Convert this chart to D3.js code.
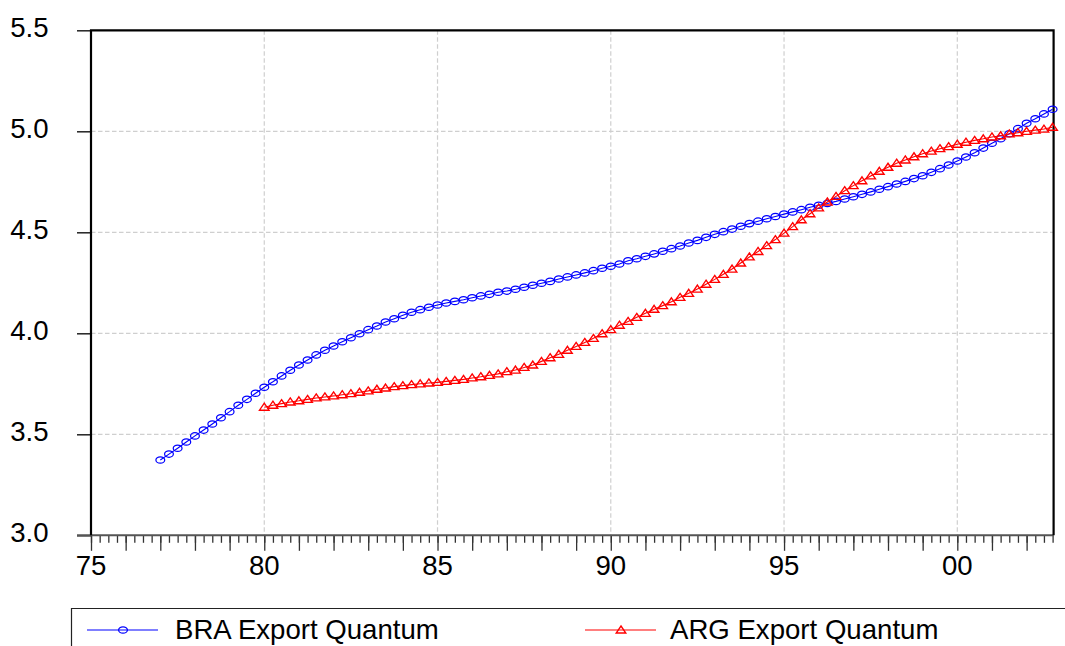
<!DOCTYPE html>
<html>
<head>
<meta charset="utf-8">
<script src="https://cdn.jsdelivr.net/npm/d3@7/dist/d3.min.js"></script>
<style>
  html, body { margin: 0; padding: 0; background: #fff; }
  svg { display: block; }
  text { font-family: "Liberation Sans", Arial, sans-serif; fill: #000; }
</style>
</head>
<body>
<svg id="chart" width="1065" height="646"></svg>
<script>
// Quarterly series (log export quantum), first observation given by start year/quarter
const braStart = [1977, 1];
const braValues = [
  3.373, 3.402, 3.431, 3.462,
  3.492, 3.521, 3.551, 3.582,
  3.612, 3.644, 3.673, 3.703,
  3.733, 3.760, 3.789, 3.817,
  3.843, 3.868, 3.893, 3.916,
  3.937, 3.958, 3.978, 3.998,
  4.018, 4.036, 4.056, 4.072,
  4.089, 4.104, 4.117, 4.129,
  4.140, 4.150, 4.158, 4.166,
  4.176, 4.185, 4.193, 4.203,
  4.209, 4.218, 4.228, 4.238,
  4.248, 4.257, 4.269, 4.279,
  4.289, 4.299, 4.310, 4.322,
  4.332, 4.343, 4.359, 4.369,
  4.381, 4.393, 4.406, 4.419,
  4.432, 4.447, 4.460, 4.475,
  4.490, 4.503, 4.516, 4.530,
  4.543, 4.555, 4.567, 4.578,
  4.590, 4.601, 4.612, 4.624,
  4.634, 4.643, 4.653, 4.665,
  4.676, 4.688, 4.700, 4.713,
  4.726, 4.739, 4.752, 4.766,
  4.780, 4.797, 4.815, 4.833,
  4.853, 4.873, 4.894, 4.917,
  4.941, 4.963, 4.988, 5.013,
  5.040, 5.062, 5.086, 5.109
];

const argStart = [1980, 1];
const argValues = [
  3.634, 3.644, 3.652, 3.660,
  3.666, 3.673, 3.680, 3.685,
  3.690, 3.696, 3.701, 3.708,
  3.715, 3.723, 3.729, 3.736,
  3.741, 3.746, 3.750, 3.754,
  3.757, 3.762, 3.767, 3.772,
  3.779, 3.785, 3.792, 3.799,
  3.810, 3.818, 3.831, 3.843,
  3.861, 3.879, 3.896, 3.916,
  3.935, 3.955, 3.975, 3.998,
  4.018, 4.040, 4.059, 4.079,
  4.099, 4.119, 4.137, 4.156,
  4.178, 4.198, 4.219, 4.243,
  4.267, 4.292, 4.318, 4.348,
  4.378, 4.405, 4.434, 4.464,
  4.496, 4.528, 4.562, 4.592,
  4.621, 4.650, 4.678, 4.706,
  4.731, 4.755, 4.779, 4.802,
  4.822, 4.842, 4.858, 4.874,
  4.889, 4.902, 4.914, 4.924,
  4.936, 4.946, 4.955, 4.963,
  4.972, 4.978, 4.987, 4.993,
  5.000, 5.006, 5.011, 5.020
];

const seriesNames = ["BRA Export Quantum", "ARG Export Quantum"];
const xTickYears = [1975, 1980, 1985, 1990, 1995, 2000];
const xTickLabels = ["75", "80", "85", "90", "95", "00"];
const yTickValues = [3.0, 3.5, 4.0, 4.5, 5.0, 5.5];
const yTickLabels = ["3.0", "3.5", "4.0", "4.5", "5.0", "5.5"];
const sampleRange = [1975, 2002.75];

// ---- layout ----
const svg = d3.select("#chart");
const plotL = 91, plotR = 1052.6, plotT = 30.3, plotB = 535.3;
const fontSize = 27.6;

const x = d3.scaleLinear().domain(sampleRange).range([plotL, plotR]);
const y = d3.scaleLinear().domain([3.0, 5.5]).range([plotB, plotT]);

function toPoints(start, values) {
  const t0 = start[0] + (start[1] - 1) / 4;
  return values.map((v, i) => ({ t: t0 + i / 4, v }));
}
const bra = toPoints(braStart, braValues);
const arg = toPoints(argStart, argValues);

// grid lines
const grid = svg.append("g").attr("stroke", "#cfcfcf").attr("stroke-width", 1.2)
  .attr("stroke-dasharray", "4.5,2.5");
grid.selectAll("line.h").data(yTickValues.slice(1, -1)).join("line").attr("class", "h")
  .attr("x1", plotL).attr("x2", plotR + 1).attr("y1", d => y(d)).attr("y2", d => y(d));
grid.selectAll("line.v").data(xTickYears.slice(1)).join("line").attr("class", "v")
  .attr("x1", d => x(d)).attr("x2", d => x(d)).attr("y1", plotT).attr("y2", plotB);

// x axis with quarterly minor ticks and yearly major ticks
const quarterTicks = d3.range(sampleRange[0], sampleRange[1] + 0.001, 0.25);
const xAxisMinor = d3.axisBottom(x).tickValues(quarterTicks).tickSize(7.5).tickFormat("");
const xAxisMajor = d3.axisBottom(x).tickValues(d3.range(1975, 2003, 1)).tickSize(15.5).tickFormat("");
const gxMinor = svg.append("g").attr("transform", `translate(0,${plotB})`).call(xAxisMinor);
const gxMajor = svg.append("g").attr("transform", `translate(0,${plotB})`).call(xAxisMajor);
[gxMinor, gxMajor].forEach(g => {
  g.select(".domain").remove();
  g.selectAll(".tick line").attr("stroke", "#333").attr("stroke-width", 1.3);
});
svg.append("g").selectAll("text").data(xTickYears).join("text")
  .attr("x", d => x(d)).attr("y", 574.5).attr("text-anchor", "middle")
  .attr("font-size", fontSize).text((d, i) => xTickLabels[i]);

// y axis ticks and labels
const yAxis = d3.axisLeft(y).tickValues(yTickValues).tickSize(14).tickFormat("");
const gy = svg.append("g").attr("transform", `translate(${plotL},0)`).call(yAxis);
gy.select(".domain").remove();
gy.selectAll(".tick line").attr("stroke", "#222").attr("stroke-width", 1.5);
svg.append("g").selectAll("text").data(yTickValues).join("text")
  .attr("x", 48.5).attr("y", d => y(d) + 7).attr("text-anchor", "end")
  .attr("font-size", fontSize).text((d, i) => yTickLabels[i]);

// frame
svg.append("line").attr("x1", plotL - 14).attr("x2", plotR + 1).attr("y1", plotB).attr("y2", plotB)
  .attr("stroke", "#555").attr("stroke-width", 2);
svg.append("path")
  .attr("d", `M${plotL},${plotB}V${plotT}H${plotR + 1}V${plotB}`)
  .attr("fill", "none").attr("stroke", "#000").attr("stroke-width", 2.2);

// series
const line = d3.line().x(d => x(d.t)).y(d => y(d.v));
const plot = svg.append("g");

plot.append("path").datum(bra).attr("d", line)
  .attr("fill", "none").attr("stroke", "#0000ff").attr("stroke-width", 1.1);
plot.append("g").selectAll("ellipse").data(bra).join("ellipse")
  .attr("cx", d => x(d.t)).attr("cy", d => y(d.v)).attr("rx", 4.4).attr("ry", 3.2)
  .attr("fill", "none").attr("stroke", "#0000ff").attr("stroke-width", 1.25);

const tri = (cx, cy) => `M${cx},${cy - 4}L${cx + 4.8},${cy + 3}L${cx - 4.8},${cy + 3}Z`;
plot.append("path").datum(arg).attr("d", line)
  .attr("fill", "none").attr("stroke", "#ff0000").attr("stroke-width", 1.1);
plot.append("g").selectAll("path").data(arg).join("path")
  .attr("d", d => tri(x(d.t), y(d.v)))
  .attr("fill", "none").attr("stroke", "#ff0000").attr("stroke-width", 1.35);

// legend
const lg = svg.append("g");
lg.append("path").attr("d", "M71.5,646V608.5H1066")
  .attr("fill", "none").attr("stroke", "#222").attr("stroke-width", 1.2);
const ly = 630;
lg.append("line").attr("x1", 87).attr("x2", 158).attr("y1", ly).attr("y2", ly)
  .attr("stroke", "#0000ff").attr("stroke-width", 1.1);
lg.append("ellipse").attr("cx", 123).attr("cy", ly).attr("rx", 4.4).attr("ry", 3.2)
  .attr("fill", "none").attr("stroke", "#0000ff").attr("stroke-width", 1.25);
lg.append("text").attr("x", 175).attr("y", 638.5).attr("font-size", fontSize).text(seriesNames[0]);

lg.append("line").attr("x1", 585).attr("x2", 656).attr("y1", ly).attr("y2", ly)
  .attr("stroke", "#ff0000").attr("stroke-width", 1.1);
lg.append("path").attr("d", tri(621, ly))
  .attr("fill", "none").attr("stroke", "#ff0000").attr("stroke-width", 1.35);
lg.append("text").attr("x", 670).attr("y", 638.5).attr("font-size", fontSize).text(seriesNames[1]);
</script>
</body>
</html>
